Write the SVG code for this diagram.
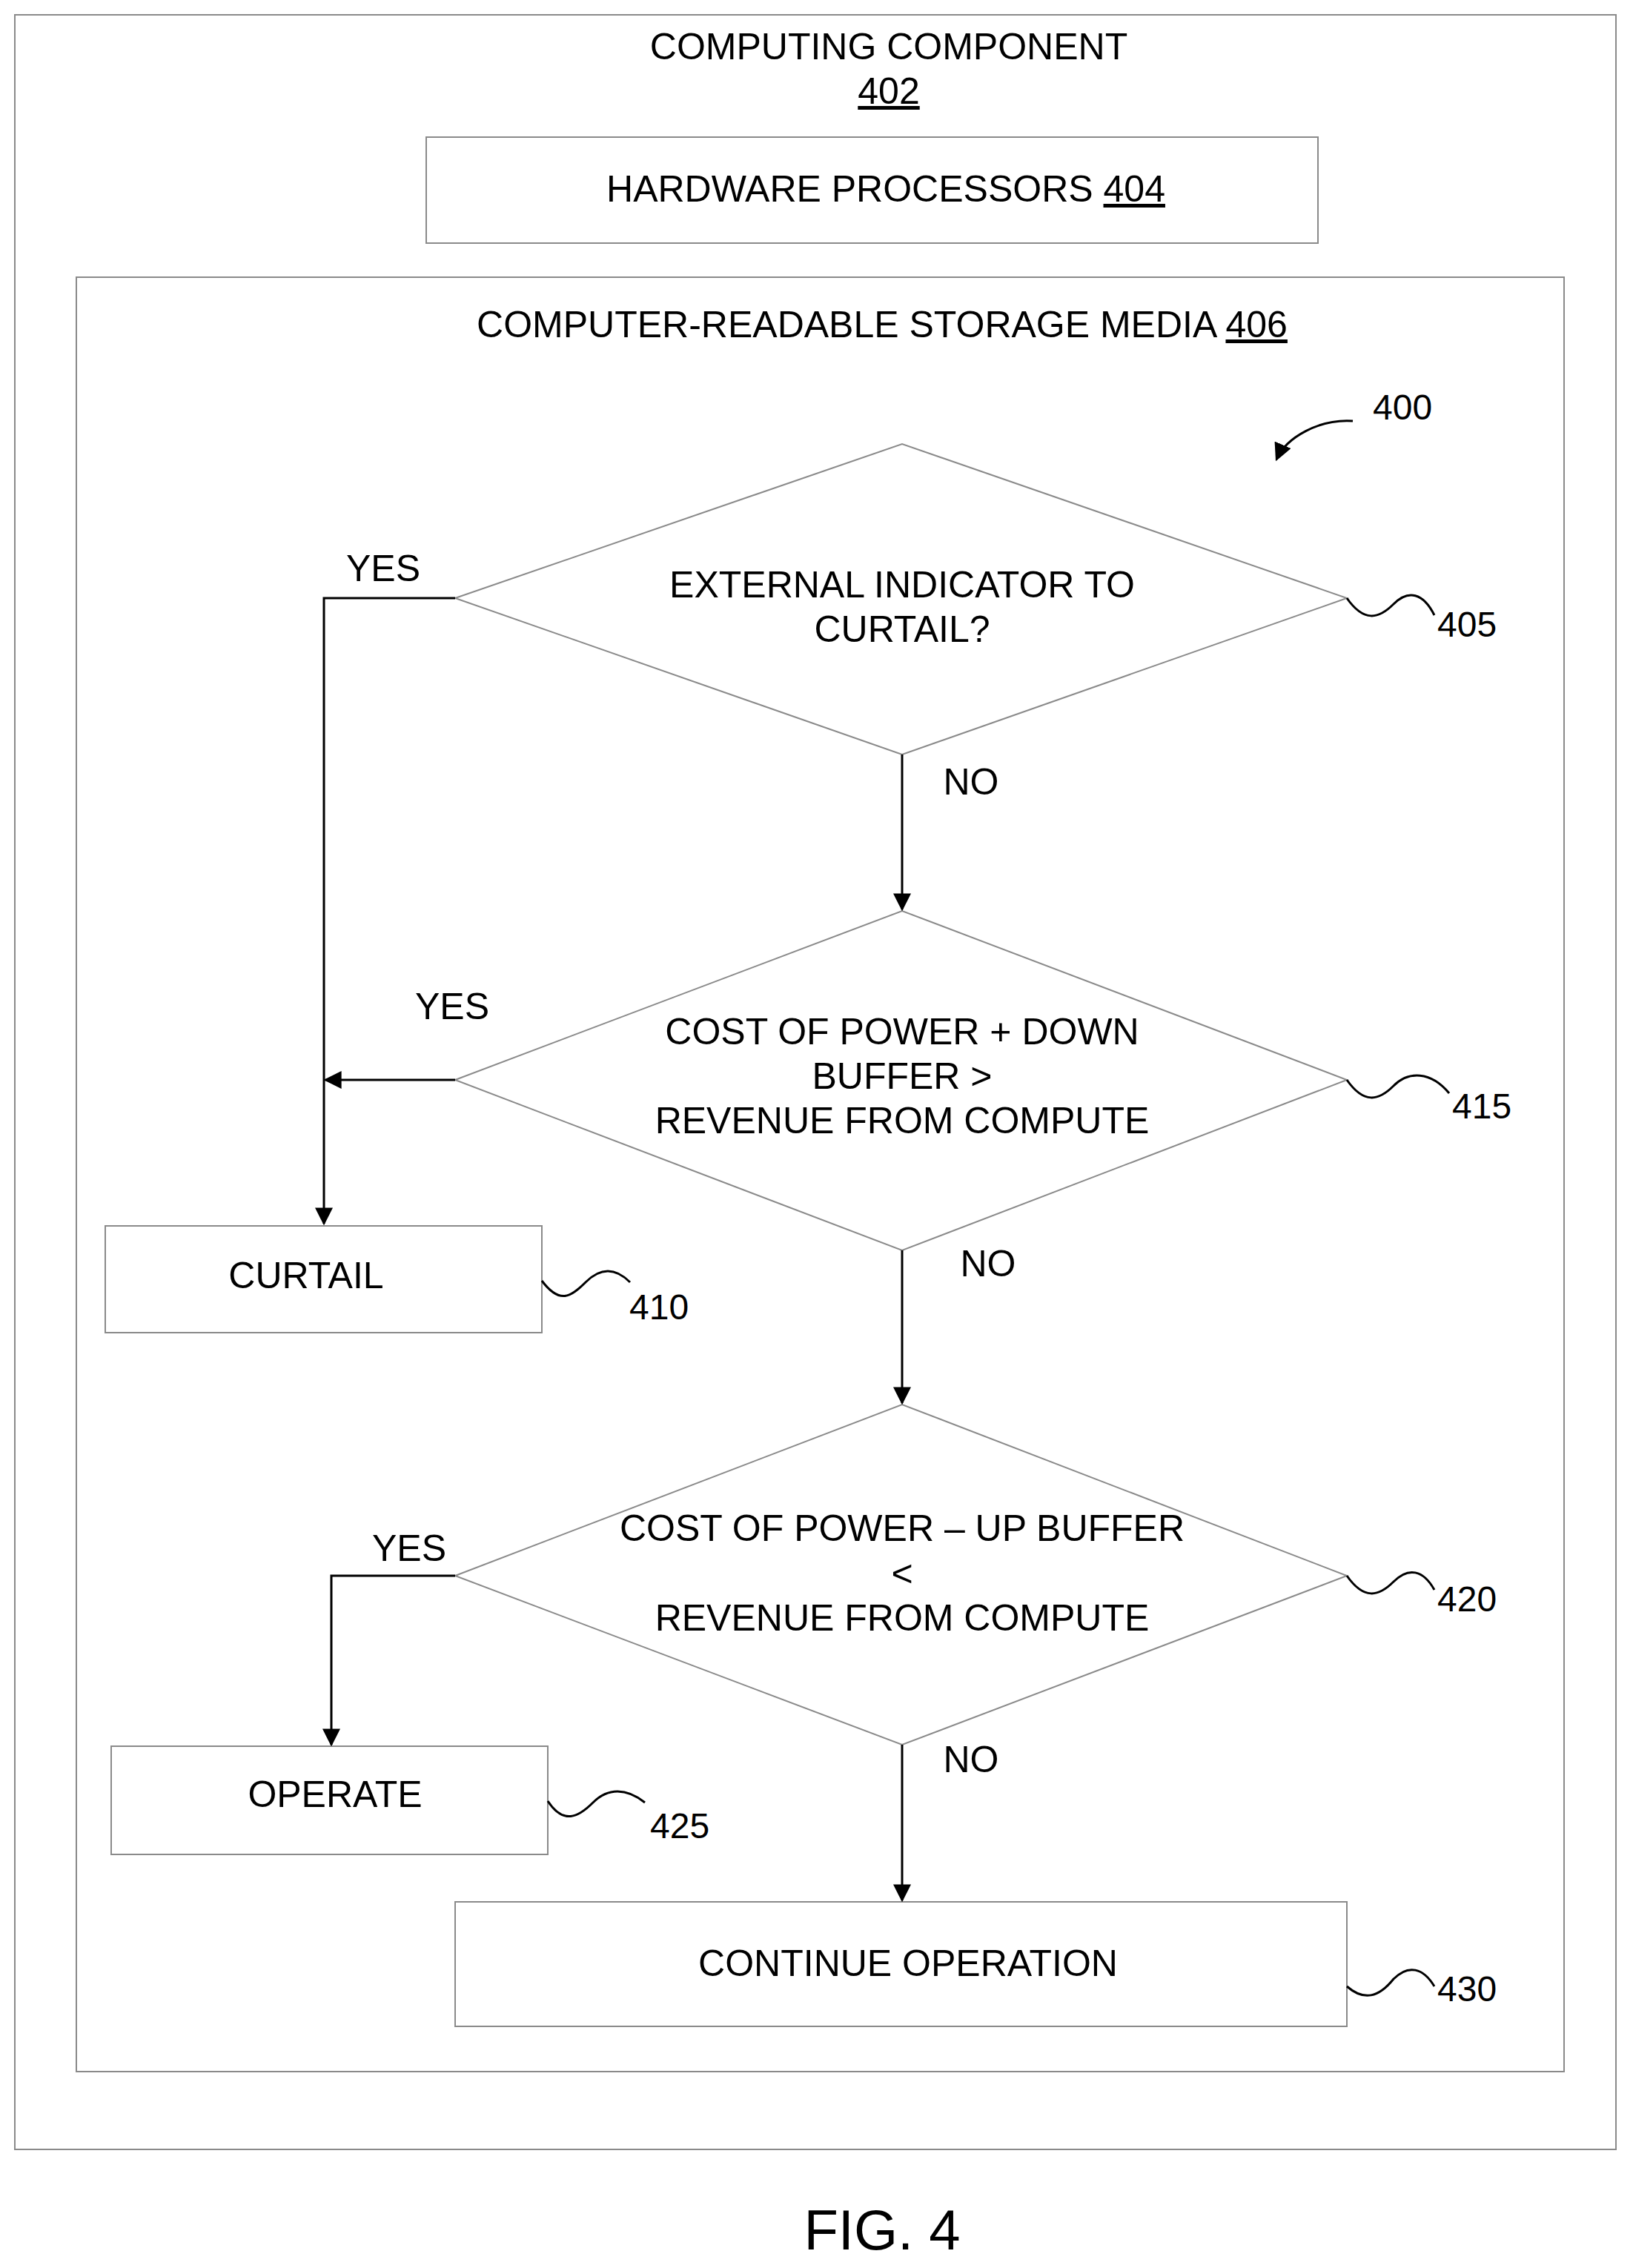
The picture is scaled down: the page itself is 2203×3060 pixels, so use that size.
<svg xmlns="http://www.w3.org/2000/svg" width="2203" height="3060" viewBox="0 0 2203 3060">
<style>
.s{fill:none;stroke:#8a8a8a;stroke-width:2}
.ln{fill:none;stroke:#000;stroke-width:3}
.t{font-family:"Liberation Sans",Arial,sans-serif;font-size:50px;fill:#000;text-anchor:middle}
.lab{font-family:"Liberation Sans",Arial,sans-serif;font-size:48px;fill:#000}
</style>
<defs>
<marker id="ah" viewBox="0 0 10 10" refX="9" refY="5" markerWidth="24" markerHeight="24" markerUnits="userSpaceOnUse" orient="auto"><path d="M0,0 L10,5 L0,10 z" fill="#000"/></marker>
</defs>
<rect width="2203" height="3060" fill="#fff"/>
<g id="computing-component">
<rect x="20" y="20" width="2160" height="2880" class="s"/>
<text class="t" x="1199" y="80">COMPUTING COMPONENT</text>
<text class="t" x="1199" y="140" text-decoration="underline">402</text>
</g>
<g id="hardware">
<rect x="575" y="185" width="1203" height="143" class="s"/>
<text class="t" x="1195" y="272">HARDWARE PROCESSORS <tspan text-decoration="underline">404</tspan></text>
</g>
<g id="storage">
<rect x="103" y="374" width="2007" height="2421" class="s"/>
<text class="t" x="1190" y="455">COMPUTER-READABLE STORAGE MEDIA <tspan text-decoration="underline">406</tspan></text>
</g>
<g id="ref400">
<text class="lab" x="1852" y="566">400</text>
<path d="M1825,568 C1780,565 1735,590 1722,620" class="ln" stroke-width="2.5" marker-end="url(#ah)"/>
</g>
<g id="n405">
<polygon points="614,807 1217,599 1817,807 1217,1018" class="s"/>
<text class="t" x="1217" y="806">EXTERNAL INDICATOR TO</text>
<text class="t" x="1217" y="866">CURTAIL?</text>
<path d="M1817,807 C1840,840 1860,835 1880,815 C1900,795 1920,800 1935,830" class="ln" stroke-width="2"/>
<text class="lab" x="1939" y="859">405</text>
</g>
<g id="n415">
<polygon points="614,1457 1217,1229 1817,1457 1217,1687" class="s"/>
<text class="t" x="1217" y="1409">COST OF POWER + DOWN</text>
<text class="t" x="1217" y="1469">BUFFER &gt;</text>
<text class="t" x="1217" y="1529">REVENUE FROM COMPUTE</text>
<path d="M1817,1457 C1840,1490 1860,1485 1880,1465 C1900,1445 1930,1445 1955,1475" class="ln" stroke-width="2"/>
<text class="lab" x="1959" y="1509">415</text>
</g>
<g id="n410">
<rect x="142" y="1654" width="589" height="144" class="s"/>
<text class="t" x="413" y="1738">CURTAIL</text>
<path d="M731,1728 C755,1760 770,1750 790,1730 C810,1710 830,1710 850,1730" class="ln" stroke-width="2"/>
<text class="lab" x="849" y="1780">410</text>
</g>
<g id="n420">
<polygon points="614,2126 1217,1895 1817,2126 1217,2354" class="s"/>
<text class="t" x="1217" y="2079">COST OF POWER – UP BUFFER</text>
<text class="t" x="1217" y="2140">&lt;</text>
<text class="t" x="1217" y="2200">REVENUE FROM COMPUTE</text>
<path d="M1817,2126 C1840,2159 1860,2154 1880,2134 C1900,2114 1920,2118 1935,2145" class="ln" stroke-width="2"/>
<text class="lab" x="1939" y="2174">420</text>
</g>
<g id="n425">
<rect x="150" y="2356" width="589" height="146" class="s"/>
<text class="t" x="452" y="2438">OPERATE</text>
<path d="M739,2430 C760,2462 780,2452 800,2432 C820,2412 845,2412 870,2432" class="ln" stroke-width="2"/>
<text class="lab" x="877" y="2480">425</text>
</g>
<g id="n430">
<rect x="614" y="2566" width="1203" height="168" class="s"/>
<text class="t" x="1225" y="2666">CONTINUE OPERATION</text>
<path d="M1817,2680 C1840,2700 1860,2695 1880,2670 C1900,2650 1920,2655 1935,2680" class="ln" stroke-width="2"/>
<text class="lab" x="1939" y="2700">430</text>
</g>
<g id="connectors">
<path d="M614,807 H437 V1651" class="ln" marker-end="url(#ah)"/>
<path d="M614,1457 H439" class="ln" marker-end="url(#ah)"/>
<path d="M1217,1018 V1227" class="ln" marker-end="url(#ah)"/>
<path d="M1217,1687 V1893" class="ln" marker-end="url(#ah)"/>
<path d="M614,2126 H447 V2354" class="ln" marker-end="url(#ah)"/>
<path d="M1217,2354 V2564" class="ln" marker-end="url(#ah)"/>
<text class="t" x="517" y="784">YES</text>
<text class="t" x="610" y="1375">YES</text>
<text class="t" x="552" y="2106">YES</text>
<text class="t" x="1310" y="1072">NO</text>
<text class="t" x="1333" y="1722">NO</text>
<text class="t" x="1310" y="2391">NO</text>
</g>
<text class="t" x="1190" y="3035" style="font-size:76px">FIG. 4</text>
</svg>
